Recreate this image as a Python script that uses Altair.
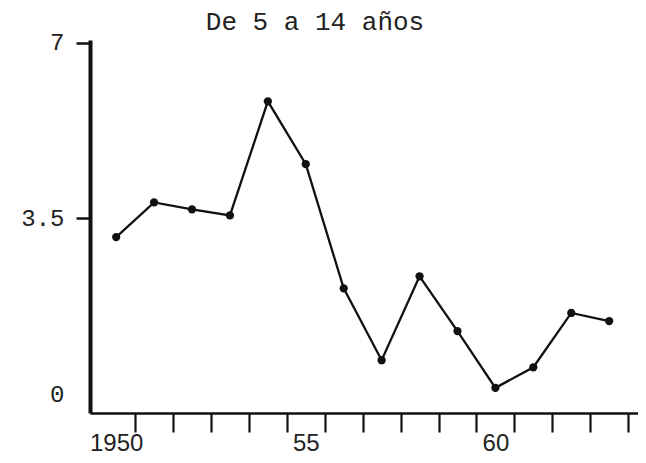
import altair as alt
import pandas as pd

# Data
years = [1950, 1951, 1952, 1953, 1954, 1955, 1956, 1957, 1958, 1959, 1960, 1961, 1962, 1963]
values = [3.13, 3.82, 3.68, 3.56, 5.83, 4.58, 2.11, 0.68, 2.35, 1.26, 0.13, 0.54, 1.62, 1.46]
tick_years = [1950.5, 1951.5, 1952.5, 1953.5, 1954.5, 1955.5, 1956.5, 1957.5,
              1958.5, 1959.5, 1960.5, 1961.5, 1962.5, 1963.5]
label_years = [1950, 1955, 1960]
y_ticks = [0, 3.5, 7]
title_text = "De 5 a 14 años"

df = pd.DataFrame({"year": years, "value": values})

x_scale = alt.Scale(domain=[1949.31, 1963.76], nice=False, zero=False)
y_scale = alt.Scale(domain=[-0.37, 7.05], nice=False, zero=False)

y_axis = alt.Axis(
    values=y_ticks, title=None, grid=False,
    labelExpr="datum.value == 3.5 ? '3.5' : toString(datum.value)",
    domainColor="#111", domainWidth=4, tickColor="#111", tickWidth=2.5, tickSize=14,
    tickOpacity=alt.condition("datum.value == 0", alt.value(0), alt.value(1)),
    labelFont="Liberation Mono", labelFontSize=24, labelColor="#222", labelPadding=12,
)

line = alt.Chart(df).mark_line(color="#111", strokeWidth=2.3).encode(
    x=alt.X("year:Q", scale=x_scale,
            axis=alt.Axis(orient="bottom", values=tick_years, labels=False, title=None, grid=False,
                          domainColor="#111", domainWidth=2.5, tickColor="#111", tickWidth=2.2,
                          tickSize=19)),
    y=alt.Y("value:Q", scale=y_scale, axis=y_axis),
)

points = alt.Chart(df).mark_circle(color="#111", size=68, opacity=1).encode(
    x=alt.X("year:Q", scale=x_scale,
            axis=alt.Axis(orient="bottom", values=label_years, ticks=False, tickSize=0, domain=False,
                          grid=False, title=None,
                          labelExpr="datum.value == 1950 ? '1950' : substring(toString(datum.value), 2, 4)",
                          labelFont="Liberation Sans", labelFontSize=24, labelColor="#222",
                          labelPadding=18)),
    y=alt.Y("value:Q", scale=y_scale, axis=y_axis),
)

chart = alt.layer(line, points).resolve_axis(x="independent").properties(
    width=548, height=373,
    padding={"left": 82, "top": 32, "right": 0, "bottom": 42},
    autosize=alt.AutoSizeParams(type="none"),
    title=alt.TitleParams(title_text, font="Liberation Mono", fontSize=26, fontWeight="normal",
                          color="#222", anchor="middle", dx=-49, frame="group", offset=-4),
).configure_view(stroke=None)

chart.save("out.html", embed_options={"renderer": "svg", "actions": False})
